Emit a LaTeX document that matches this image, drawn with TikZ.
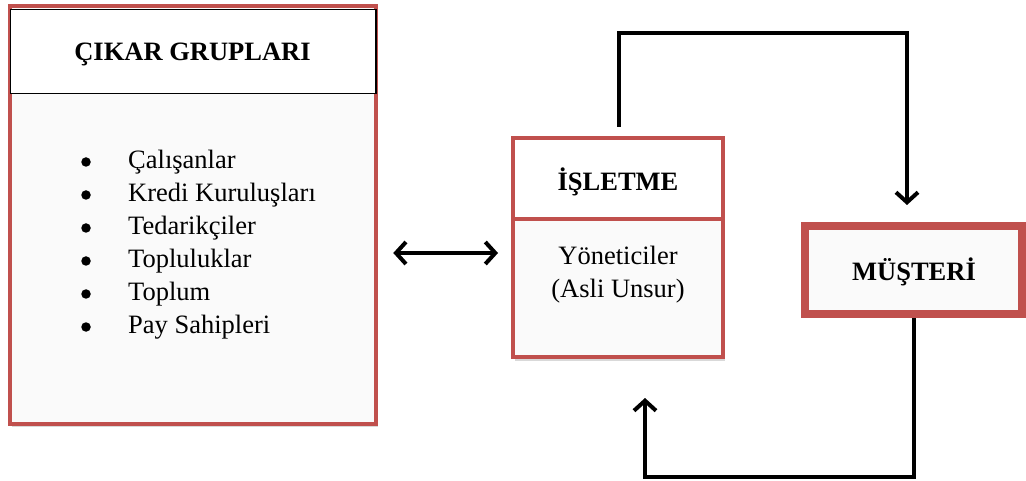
\documentclass[tikz,border=0pt]{standalone}
\usepackage{fontspec}
\setmainfont{Liberation Serif}
\usetikzlibrary{arrows.meta,shadows,calc}
\definecolor{boxred}{HTML}{C0504D}
\definecolor{boxfill}{HTML}{FAFAFA}
\begin{document}
\begin{tikzpicture}[x=1pt,y=-1pt,
  redbox/.style={draw=boxred, fill=boxfill, rectangle, inner sep=0pt},
  softshadow/.style={drop shadow={opacity=0.3, shadow xshift=2pt, shadow yshift=-3.5pt}},
  lbl/.style={inner sep=0pt, font=\fontsize{26.5}{33}\selectfont},
  title/.style={inner sep=0pt, font=\fontsize{26.5}{33}\selectfont\bfseries},
  bulletdot/.style={circle, fill=black, inner sep=0pt, minimum size=9.5pt},
  conn/.style={line width=4pt, draw=black},
  >={Straight Barb[length=10pt,width=22pt]},
]
\useasboundingbox (0,0) rectangle (1026,481);

% stakeholder groups
\node[redbox, line width=4pt, minimum width=366.5pt, minimum height=417.5pt, softshadow] (cik) at (193,214.75) {};
\node[draw=black, fill=white, line width=1.5pt, minimum width=365.5pt, minimum height=84pt, inner sep=0pt] (cikhead) at (193.25,51.5) {};
\node[title, anchor=base] (cikt) at (192.5,61) {ÇIKAR GRUPLARI};
\foreach \t [count=\i] in {Çalışanlar, Kredi Kuruluşları, Tedarikçiler, Topluluklar, Toplum, Pay Sahipleri} {
  \node[bulletdot] (dot\i) at (86, 129+33*\i) {};
  \node[lbl, anchor=base west] (item\i) at (128, 136+33*\i) {\t};
}

% the firm
\node[redbox, line width=4pt, minimum width=210pt, minimum height=219pt, softshadow] (isl) at (618,247.5) {};
\node[redbox, fill=white, line width=4pt, minimum width=210pt, minimum height=81pt] (islhead) at (618,178.5) {};
\node[title, anchor=base] (islt) at (618,191) {İŞLETME};
\node[lbl, anchor=base] (yon) at (618,265) {Yöneticiler};
\node[lbl, anchor=base] (asli) at (618,298) {(Asli Unsur)};

% the customer
\node[redbox, line width=8pt, minimum width=217pt, minimum height=88pt, softshadow] (mus) at (913.5,270) {};
\node[title, anchor=base] (must) at (914,280) {MÜŞTERİ};

% connectors
\coordinate (topc) at (619,33);
\coordinate (botc) at (645,477);
\coordinate (ay) at (0,253);
\draw[conn,->] ($(isl.north)+(1,-9)$) |- (topc) -| ($(mus.north)+(-6.5,-17)$);
\draw[conn,->] (mus.south) |- (botc) -| ($(isl.south)+(27,39)$);
\draw[conn,<->] ($(cik.east |- ay)+(15,0)$) -- ($(isl.west |- ay)+(-13,0)$);
\end{tikzpicture}
\end{document}
